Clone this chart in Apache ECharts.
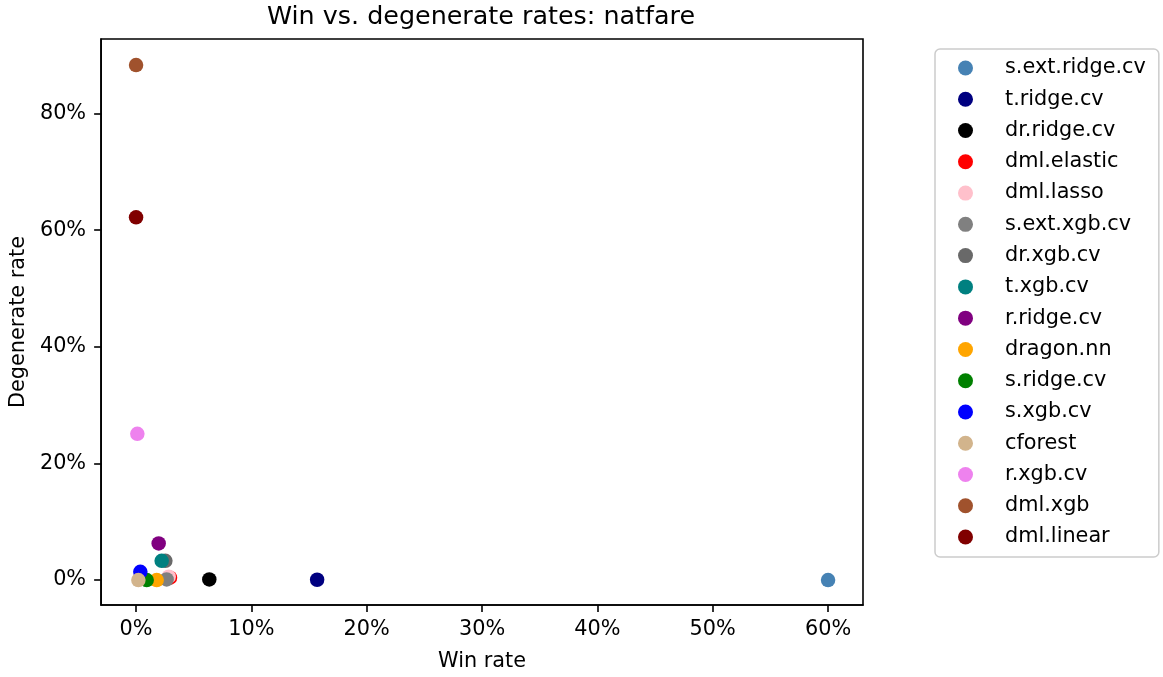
<!DOCTYPE html>
<html><head><meta charset="utf-8">
<script src="https://cdn.jsdelivr.net/npm/echarts@6/dist/echarts.min.js"></script>
<style>html,body{margin:0;padding:0;background:#fff}#c{width:1163px;height:677px}</style>
</head><body><div id="c"></div>
<script>
const methods = ['s.ext.ridge.cv','t.ridge.cv','dr.ridge.cv','dml.elastic','dml.lasso','s.ext.xgb.cv','dr.xgb.cv','t.xgb.cv','r.ridge.cv','dragon.nn','s.ridge.cv','s.xgb.cv','cforest','r.xgb.cv','dml.xgb','dml.linear'];
const winRate = [60.0, 15.7, 6.35, 2.94, 2.83, 2.65, 2.54, 2.22, 1.96, 1.79, 0.92, 0.37, 0.2, 0.11, 0.0, 0.0];
const degenerateRate = [0.0, 0.05, 0.1, 0.4, 0.57, 0.1, 3.3, 3.3, 6.27, 0.0, 0.0, 1.42, 0.0, 25.08, 88.3, 62.2];
const colors = ['#4682B4','#000080','#000000','#FF0000','#FFC0CB','#808080','#696969','#008080','#800080','#FFA500','#008000','#0000FF','#D2B48C','#EE82EE','#A0522D','#800000'];
const xTicks = [0,10,20,30,40,50,60];
const yTicks = [0,20,40,60,80];

const font = 'DejaVu Sans';
const chart = echarts.init(document.getElementById('c'), null, {renderer:'canvas'});
const series = methods.map((m,i)=>({
  name: m, type:'scatter', symbol:'circle', symbolSize:14.5,
  itemStyle:{color:colors[i], opacity:1},
  data:[[winRate[i], degenerateRate[i]]]
}));
const axisLine = {show:true, onZero:false, lineStyle:{color:'#000', width:1.6}};
chart.setOption({
  animation:false,
  backgroundColor:'#fff',
  title:{text:'Win vs. degenerate rates: natfare', left:267, top:5, padding:0,
    textStyle:{fontFamily:font, fontSize:25.4, fontWeight:'normal', color:'#000'}},
  grid:{left:100, top:39, width:763, height:567, show:true, borderColor:'#000', borderWidth:1.6, backgroundColor:'#fff'},
  xAxis:{type:'value', min:-3.03, max:63.03,
    name:'Win rate', nameLocation:'middle', nameGap:46,
    nameTextStyle:{fontFamily:font, fontSize:20.8, color:'#000'},
    splitLine:{show:false}, axisLine:axisLine,
    axisTick:{show:true, inside:false, length:7, lineStyle:{color:'#000', width:1.6}, customValues:xTicks},
    axisLabel:{fontFamily:font, fontSize:20.8, color:'#000', margin:14, customValues:xTicks, formatter:v=>v+'%'}
  },
  yAxis:{type:'value', min:-4.28, max:92.78,
    name:'Degenerate rate', nameLocation:'middle', nameGap:71, nameRotate:90,
    nameTextStyle:{fontFamily:font, fontSize:20.8, color:'#000'},
    splitLine:{show:false}, axisLine:axisLine,
    axisTick:{show:true, inside:false, length:7, lineStyle:{color:'#000', width:1.6}, customValues:yTicks},
    axisLabel:{fontFamily:font, fontSize:20.8, color:'#000', margin:15, customValues:yTicks, formatter:v=>v+'%'}
  },
  legend:{orient:'vertical', left:935, top:49,
    padding:[8.5,13,9.5,23], itemGap:10.27, itemWidth:15, itemHeight:15,
    icon:'circle', borderColor:'#cccccc', borderWidth:1.5, borderRadius:5,
    textStyle:{fontFamily:font, fontSize:20.8, color:'#000', padding:[0,0,0,27], height:21, lineHeight:21},
    data:methods
  },
  series: series
});
</script></body></html>
